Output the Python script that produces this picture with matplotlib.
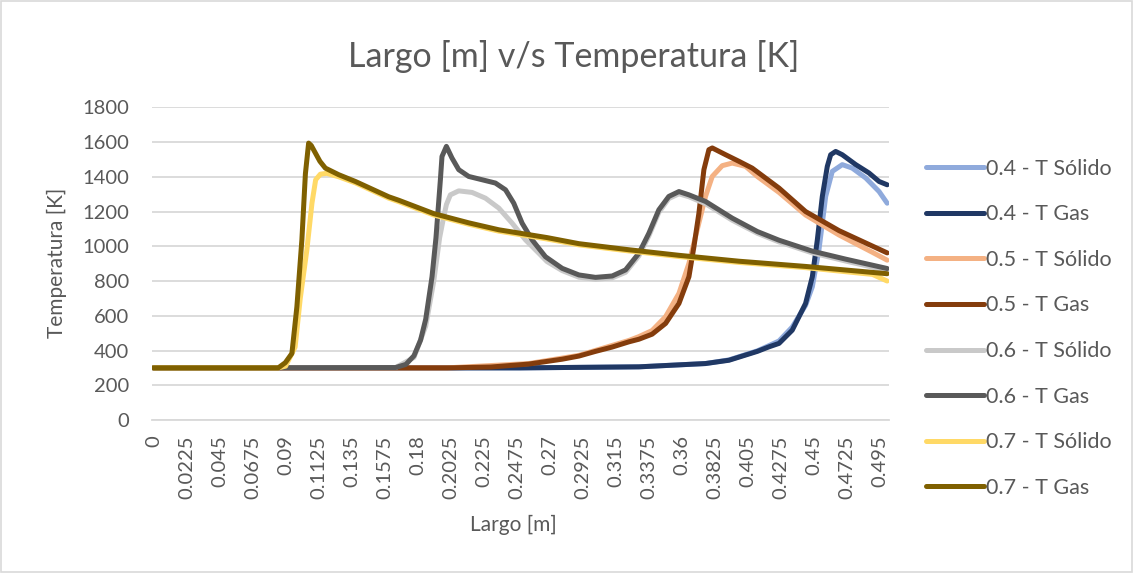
import matplotlib
matplotlib.use("Agg")
import matplotlib.pyplot as plt
from matplotlib.patches import Rectangle

plt.rcParams['font.family'] = ['Lato', 'DejaVu Sans']

# x positions [m] and temperatures [K], one pair per series
x_04_sol = [0, 0.25, 0.3308, 0.3762, 0.3922, 0.4115, 0.4194, 0.4263, 0.4353, 0.4444,
            0.449, 0.4535, 0.4581, 0.4626, 0.4694, 0.4762, 0.4854, 0.4945, 0.5]
y_04_sol = [300, 300, 306, 325, 346, 398, 428, 455, 535, 660,
            767, 979, 1287, 1431, 1470, 1450, 1393, 1315, 1248]

x_04_gas = [0, 0.25, 0.3308, 0.3762, 0.3922, 0.4115, 0.4194, 0.4263, 0.4353, 0.4444,
            0.449, 0.4524, 0.4558, 0.4592, 0.4615, 0.4649, 0.4694, 0.4786, 0.4876, 0.4945,
            0.5]
y_04_gas = [300, 300, 306, 325, 344, 395, 421, 441, 517, 671,
            825, 1037, 1287, 1460, 1527, 1546, 1527, 1470, 1422, 1373,
            1354]

x_05_sol = [0, 0.2, 0.2558, 0.2899, 0.324, 0.3308, 0.3398, 0.349, 0.3581, 0.3649,
            0.3705, 0.3762, 0.3808, 0.3876, 0.3944, 0.4035, 0.4115, 0.4263, 0.4444, 0.4672,
            0.49, 0.5]
y_05_sol = [300, 300, 325, 372, 458, 480, 515, 595, 729, 902,
            1094, 1287, 1402, 1464, 1479, 1460, 1402, 1310, 1180, 1065,
            965, 920]

x_05_gas = [0, 0.2, 0.23, 0.2558, 0.2785, 0.2899, 0.3012, 0.3126, 0.324, 0.3308,
            0.3398, 0.349, 0.3581, 0.3649, 0.3683, 0.3717, 0.3751, 0.3785, 0.3808, 0.3899,
            0.399, 0.408, 0.4263, 0.4444, 0.4672, 0.5]
y_05_gas = [300, 300, 305, 322, 350, 368, 395, 420, 450, 465,
            494, 556, 671, 825, 998, 1191, 1441, 1556, 1566, 1527,
            1489, 1450, 1335, 1200, 1090, 962]

x_06_sol = [0, 0.165, 0.1775, 0.1855, 0.191, 0.195, 0.1978, 0.1996, 0.2023, 0.208,
            0.2171, 0.2262, 0.2353, 0.2444, 0.2535, 0.2626, 0.2682, 0.2785, 0.2899, 0.3012,
            0.3126, 0.3217, 0.3308, 0.3376, 0.3444, 0.3512, 0.3581, 0.3649, 0.3762, 0.3944,
            0.4115, 0.4263, 0.449, 0.4717, 0.49, 0.5]
y_06_sol = [300, 302, 360, 540, 800, 1050, 1171, 1240, 1296, 1319,
            1310, 1277, 1220, 1133, 1037, 960, 912, 860, 822, 810,
            818, 850, 945, 1060, 1195, 1275, 1302, 1285, 1245, 1150,
            1075, 1025, 962, 915, 880, 858]

x_06_gas = [0, 0.165, 0.172, 0.1775, 0.182, 0.1855, 0.1898, 0.1925, 0.1955, 0.1966,
            0.1996, 0.2034, 0.208, 0.2148, 0.2239, 0.233, 0.2399, 0.2455, 0.2512, 0.258,
            0.2671, 0.2785, 0.2899, 0.3012, 0.3126, 0.3217, 0.3308, 0.3376, 0.3444, 0.3512,
            0.3581, 0.3649, 0.3762, 0.3944, 0.4115, 0.4263, 0.449, 0.4717, 0.5]
y_06_gas = [300, 302, 320, 370, 460, 580, 825, 1050, 1383, 1517,
            1575, 1508, 1441, 1402, 1383, 1364, 1325, 1248, 1133, 1037,
            940, 873, 835, 821, 829, 864, 960, 1075, 1210, 1287,
            1315, 1296, 1258, 1162, 1085, 1035, 972, 926, 872]

x_07_sol = [0, 0.085, 0.09, 0.0965, 0.1, 0.1045, 0.108, 0.1105, 0.1137, 0.118,
            0.1262, 0.1376, 0.1603, 0.1671, 0.191, 0.2148, 0.2353, 0.2682, 0.2899, 0.324,
            0.3581, 0.399, 0.4444, 0.49, 0.5]
y_07_sol = [300, 300, 310, 420, 700, 979, 1250, 1383, 1415, 1420,
            1400, 1365, 1277, 1257, 1180, 1127, 1087, 1042, 1008, 973,
            941, 907, 877, 838, 800]

x_07_gas = [0, 0.085, 0.0898, 0.0943, 0.0977, 0.1011, 0.1035, 0.1057, 0.1075, 0.1134,
            0.1171, 0.1262, 0.1376, 0.1603, 0.1671, 0.191, 0.2148, 0.2353, 0.2682, 0.2899,
            0.324, 0.3581, 0.399, 0.4444, 0.5]
y_07_gas = [300, 300, 330, 383, 652, 1037, 1417, 1594, 1580, 1489,
            1450, 1412, 1373, 1285, 1265, 1188, 1135, 1095, 1050, 1015,
            980, 948, 914, 884, 842]

series = [
    ("0.4 - T Sólido", x_04_sol, y_04_sol, "#8FAADC"),
    ("0.4 - T Gas", x_04_gas, y_04_gas, "#203864"),
    ("0.5 - T Sólido", x_05_sol, y_05_sol, "#F4B183"),
    ("0.5 - T Gas", x_05_gas, y_05_gas, "#843C0C"),
    ("0.6 - T Sólido", x_06_sol, y_06_sol, "#C9C9C9"),
    ("0.6 - T Gas", x_06_gas, y_06_gas, "#595959"),
    ("0.7 - T Sólido", x_07_sol, y_07_sol, "#FFD966"),
    ("0.7 - T Gas", x_07_gas, y_07_gas, "#7F6000"),
]

x_ticks = [0, 0.0225, 0.045, 0.0675, 0.09, 0.1125, 0.135, 0.1575, 0.18, 0.2025,
           0.225, 0.2475, 0.27, 0.2925, 0.315, 0.3375, 0.36, 0.3825, 0.405, 0.4275,
           0.45, 0.4725, 0.495]
x_tick_labels = ["0", "0.0225", "0.045", "0.0675", "0.09", "0.1125", "0.135", "0.1575",
                 "0.18", "0.2025", "0.225", "0.2475", "0.27", "0.2925", "0.315", "0.3375",
                 "0.36", "0.3825", "0.405", "0.4275", "0.45", "0.4725", "0.495"]
y_ticks = [0, 200, 400, 600, 800, 1000, 1200, 1400, 1600, 1800]

text_gray = "#595959"
grid_gray = "#D9D9D9"

fig = plt.figure(figsize=(11.33, 5.73), dpi=100)
ax = fig.add_axes([151.7 / 1133, 1 - 420 / 573, 737.3 / 1133, 312.7 / 573])

for name, xs, ys, col in series:
    ax.plot(xs, ys, color=col, lw=3.6, label=name,
            solid_capstyle='round', solid_joinstyle='round')

# category axis: half a step of padding on each side
ax.set_xlim(-0.00125, 0.50125)
ax.set_ylim(0, 1800)
ax.set_xticks(x_ticks)
ax.set_xticklabels(x_tick_labels, rotation=90)
ax.set_yticks(y_ticks)
ax.tick_params(axis='both', length=0, labelsize=14.5, labelcolor=text_gray)
ax.tick_params(axis='x', pad=11)
ax.tick_params(axis='y', pad=16)

ax.grid(axis='y', color=grid_gray, lw=1.3)
ax.set_axisbelow(True)
for s in ['top', 'right', 'left']:
    ax.spines[s].set_visible(False)
ax.spines['bottom'].set_color(grid_gray)
ax.spines['bottom'].set_linewidth(1.3)

ax.text(0.49, -0.336, "Largo [m]", transform=ax.transAxes, ha='center', va='center',
        fontsize=15, color=text_gray)
ax.text(-0.128, 0.502, "Temperatura [K]", transform=ax.transAxes, ha='center', va='center',
        rotation=90, fontsize=15, color=text_gray)
fig.text(0.506, 0.902, "Largo [m] v/s Temperatura [K]", ha='center', va='center',
         fontsize=24.5, color=text_gray)

leg = fig.legend(loc='upper left', bbox_to_anchor=(917 / 1133, 1 - 150 / 573),
                 frameon=False, fontsize=15.5, handlelength=2.7, handletextpad=0.1,
                 labelspacing=1.19, borderaxespad=0)
for t in leg.get_texts():
    t.set_color(text_gray)

# light chart border
fig.add_artist(Rectangle((0.001, 0.001), 0.998, 0.998, transform=fig.transFigure,
                         fill=False, edgecolor=grid_gray, lw=1.2))

fig.savefig("out.png", dpi=100)
